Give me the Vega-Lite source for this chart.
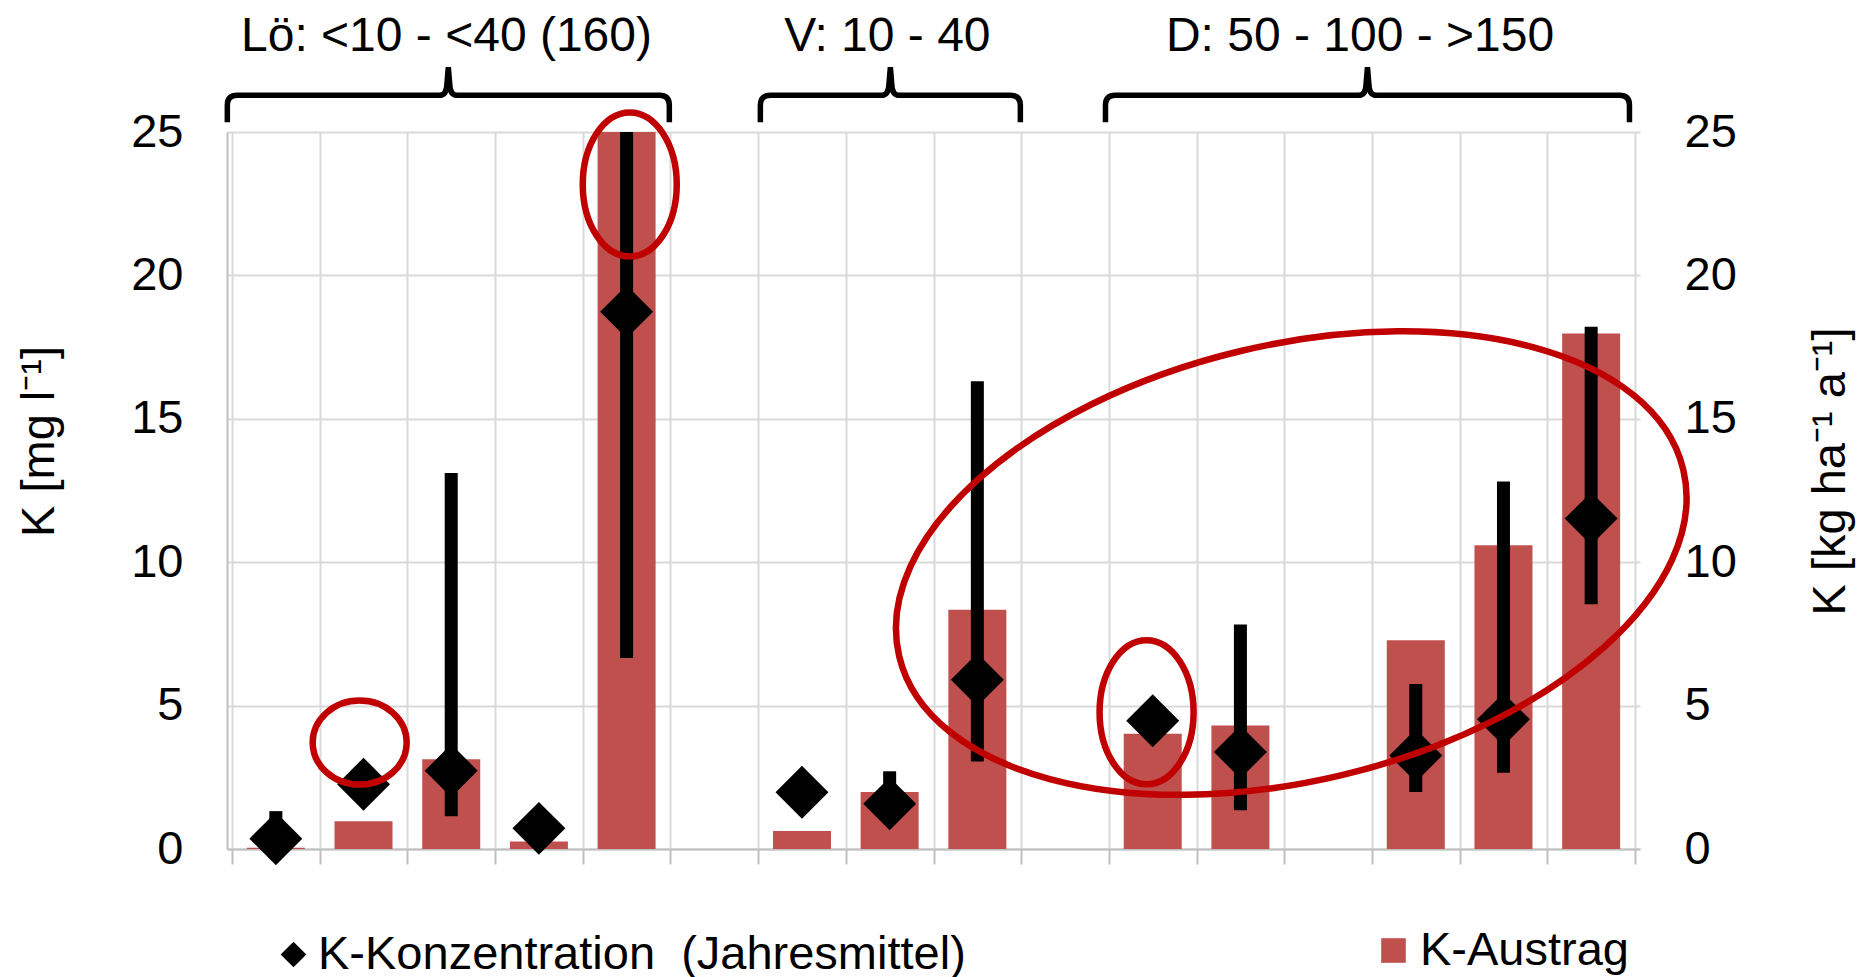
{
  "$schema": "https://vega.github.io/schema/vega-lite/v6.json",
  "width": 1413,
  "height": 717,
  "autosize": {"type": "none"},
  "padding": {"left": 227, "top": 132, "right": 228, "bottom": 128},
  "background": "white",
  "config": {
    "view": {"stroke": null},
    "font": "Liberation Sans",
    "axis": {"labelFont": "Liberation Sans", "labelFontSize": 47, "labelColor": "black", "titleFont": "Liberation Sans", "titleFontSize": 47, "titleFontWeight": "normal", "titleColor": "black"},
    "legend": {"labelFont": "Liberation Sans", "labelFontSize": 47, "labelColor": "black", "labelLimit": 1000, "padding": 0}
  },
  "datasets": {
    "main": [
      {"cat": 1, "conc": 0.36, "lo": 0.1, "hi": 1.32, "austrag": 0.04},
      {"cat": 2, "conc": 2.26, "austrag": 0.97},
      {"cat": 3, "conc": 2.73, "lo": 1.14, "hi": 13.11, "austrag": 3.13},
      {"cat": 4, "conc": 0.72, "austrag": 0.26},
      {"cat": 5, "conc": 18.73, "lo": 6.66, "hi": 25, "austrag": 25},
      {"cat": 7, "conc": 1.98, "austrag": 0.63},
      {"cat": 8, "conc": 1.58, "lo": 1.0, "hi": 2.71, "austrag": 1.99},
      {"cat": 9, "conc": 5.9, "lo": 3.05, "hi": 16.31, "austrag": 8.34},
      {"cat": 11, "conc": 4.47, "austrag": 4.02},
      {"cat": 12, "conc": 3.38, "lo": 1.35, "hi": 7.83, "austrag": 4.31},
      {"cat": 14, "conc": 3.26, "lo": 1.99, "hi": 5.75, "austrag": 7.28},
      {"cat": 15, "conc": 4.52, "lo": 2.66, "hi": 12.81, "austrag": 10.59},
      {"cat": 16, "conc": 11.52, "lo": 8.53, "hi": 18.21, "austrag": 17.97}
    ],
    "labels": [
      {"cat": 2.946, "label": "Lö: <10 - <40 (160)"},
      {"cat": 7.974, "label": "V: 10 - 40"},
      {"cat": 13.364, "label": "D: 50 - 100 - >150"}
    ]
  },
  "data": {"name": "main"},
  "resolve": {"scale": {"y": "independent"}},
  "encoding": {
    "x": {"field": "cat", "type": "quantitative", "scale": {"domain": [0.5, 16.5], "nice": false, "zero": false},
      "axis": {"values": [0.5, 1.5, 2.5, 3.5, 4.5, 5.5, 6.5, 7.5, 8.5, 9.5, 10.5, 11.5, 12.5, 13.5, 14.5, 15.5, 16.5], "grid": true, "gridColor": "#D9D9D9", "gridWidth": 2, "labels": false, "ticks": true, "tickSize": 15, "tickColor": "#BFBFBF", "tickWidth": 2, "domainColor": "#BFBFBF", "domainWidth": 2, "title": null}}
  },
  "layer": [
    {
      "mark": {"type": "bar", "size": 58},
      "encoding": {
        "y": {"field": "austrag", "type": "quantitative", "scale": {"domain": [0, 25], "nice": false},
          "axis": {"orient": "right", "values": [0, 5, 10, 15, 20, 25], "grid": false, "domain": false, "ticks": false, "labelPadding": 44, "title": "K [kg ha⁻¹ a⁻¹]", "titleAngle": 270, "titleX": 204, "titleY": 339, "titleAlign": "center", "titleBaseline": "alphabetic"}},
        "color": {"datum": "K-Austrag", "type": "nominal", "scale": {"range": ["#C0504D"]},
          "legend": {"orient": "none", "legendX": 1143, "legendY": 795, "title": null, "symbolType": "square", "symbolSize": 605, "symbolStrokeWidth": 0, "symbolOpacity": 1, "labelOffset": 3}}
      }
    },
    {
      "layer": [
        {
          "mark": {"type": "rule", "strokeWidth": 13, "color": "black"},
          "encoding": {
            "y": {"field": "lo", "type": "quantitative", "scale": {"domain": [0, 25], "nice": false}},
            "y2": {"field": "hi"}
          }
        },
        {
          "mark": {"type": "point", "size": 2800, "filled": true, "color": "black", "opacity": 1, "strokeWidth": 0},
          "encoding": {
            "y": {"field": "conc", "type": "quantitative", "scale": {"domain": [0, 25], "nice": false},
              "axis": {"values": [0, 5, 10, 15, 20, 25], "grid": true, "gridColor": "#D9D9D9", "gridWidth": 2, "domain": true, "domainColor": "#BFBFBF", "domainWidth": 2, "ticks": false, "labelPadding": 44, "title": "K [mg l⁻¹]", "titleAngle": 270, "titleX": -174, "titleY": 309, "titleAlign": "center", "titleBaseline": "alphabetic"}},
            "shape": {"datum": "K-Konzentration\u00a0\u00a0(Jahresmittel)", "type": "nominal", "scale": {"range": ["diamond"]},
              "legend": {"orient": "none", "legendX": 43, "legendY": 799, "title": null, "symbolSize": 660, "symbolFillColor": "black", "symbolStrokeWidth": 0, "symbolOpacity": 1, "labelOffset": 1}}
          }
        },
        {
          "data": {"values": [{"cat": 1.956, "y": 3.71}]},
          "mark": {"type": "point", "shape": "M -47 0 A 47 42 0 1 0 47 0 A 47 42 0 1 0 -47 0 Z", "size": 4, "filled": false, "color": "#C00000", "strokeWidth": 6.5, "opacity": 1},
          "encoding": {
            "y": {"field": "y", "type": "quantitative", "scale": {"domain": [0, 25], "nice": false}}
          }
        },
        {
          "data": {"values": [{"cat": 5.036, "y": 23.17}, {"cat": 10.93, "y": 4.77}]},
          "mark": {"type": "point", "shape": "M -47 0 A 47 72 0 1 0 47 0 A 47 72 0 1 0 -47 0 Z", "size": 4, "filled": false, "color": "#C00000", "strokeWidth": 6.5, "opacity": 1},
          "encoding": {
            "y": {"field": "y", "type": "quantitative", "scale": {"domain": [0, 25], "nice": false}}
          }
        },
        {
          "data": {"values": [{"cat": 12.58, "y": 9.97}]},
          "mark": {"type": "point", "shape": "M -403 0 A 403 218 0 1 0 403 0 A 403 218 0 1 0 -403 0 Z", "size": 4, "angle": 346.6, "filled": false, "color": "#C00000", "strokeWidth": 6.5, "opacity": 1},
          "encoding": {
            "y": {"field": "y", "type": "quantitative", "scale": {"domain": [0, 25], "nice": false}}
          }
        },
        {
          "data": {"values": [{"cat": 2.967}]},
          "mark": {"type": "point", "shape": "M -221 27 L -221 10 Q -221 0 -211 0 L -9 0 Q -2 0 -1.5 -10 L 0 -28 L 1.5 -10 Q 2 0 9 0 L 211 0 Q 221 0 221 10 L 221 27", "size": 4, "filled": false, "color": "black", "strokeWidth": 5.5, "opacity": 1},
          "encoding": {
            "y": {"datum": 26.28, "type": "quantitative", "scale": {"domain": [0, 25], "nice": false}}
          }
        },
        {
          "data": {"values": [{"cat": 8.008}]},
          "mark": {"type": "point", "shape": "M -130 27 L -130 10 Q -130 0 -120 0 L -9 0 Q -2 0 -1.5 -10 L 0 -28 L 1.5 -10 Q 2 0 9 0 L 120 0 Q 130 0 130 10 L 130 27", "size": 4, "filled": false, "color": "black", "strokeWidth": 5.5, "opacity": 1},
          "encoding": {
            "y": {"datum": 26.28, "type": "quantitative", "scale": {"domain": [0, 25], "nice": false}}
          }
        },
        {
          "data": {"values": [{"cat": 13.449}]},
          "mark": {"type": "point", "shape": "M -262 27 L -262 10 Q -262 0 -252 0 L -9 0 Q -2 0 -1.5 -10 L 0 -28 L 1.5 -10 Q 2 0 9 0 L 252 0 Q 262 0 262 10 L 262 27", "size": 4, "filled": false, "color": "black", "strokeWidth": 5.5, "opacity": 1},
          "encoding": {
            "y": {"datum": 26.28, "type": "quantitative", "scale": {"domain": [0, 25], "nice": false}}
          }
        },
        {
          "data": {"name": "labels"},
          "mark": {"type": "text", "font": "Liberation Sans", "fontSize": 48, "align": "center", "baseline": "alphabetic", "color": "black"},
          "encoding": {
            "y": {"datum": 27.83, "type": "quantitative", "scale": {"domain": [0, 25], "nice": false}},
            "text": {"field": "label", "type": "nominal"}
          }
        }
      ]
    }
  ]
}
